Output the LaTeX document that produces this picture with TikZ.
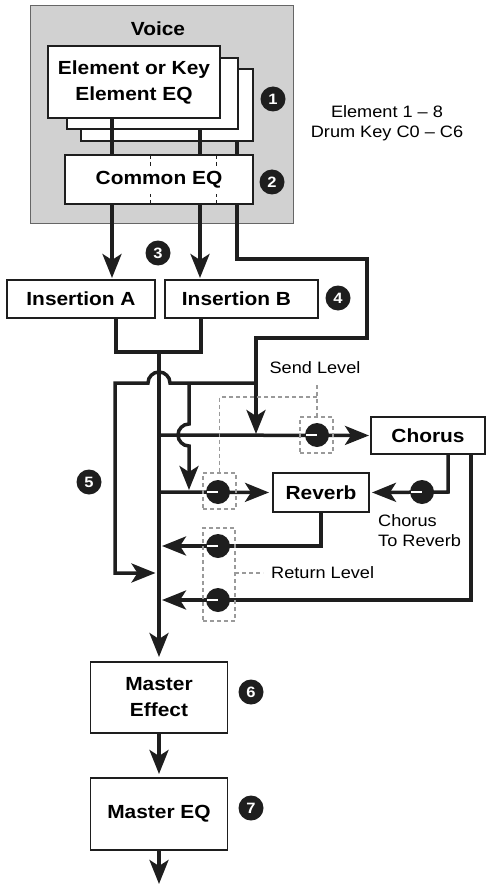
\documentclass[tikz,border=0pt]{standalone}
\usepackage{fontspec}
\setmainfont{Liberation Sans}[FakeStretch=1.1]
\usetikzlibrary{arrows.meta}
\definecolor{ink}{HTML}{1E1E1E}
\definecolor{dgray}{HTML}{9A9A9A}
\definecolor{vfill}{HTML}{D1D1D1}
\definecolor{vedge}{HTML}{666666}
\tikzset{
 box/.style={draw=ink, line width=1.3pt, fill=white, inner sep=0pt, outer sep=0pt, align=center, font=\bfseries\fontsize{19}{26}\selectfont},
 wire/.style={draw=ink, line width=3.5pt},
 arr/.style={wire, -{Stealth[length=24pt,width=19pt,inset=6pt]}},
 knob/.style={circle, fill=ink, minimum size=24pt, inner sep=0pt},
 badge/.style={circle, fill=ink, text=white, minimum size=25pt, inner sep=0pt, font=\bfseries\fontsize{15}{15}\selectfont},
 dbox/.style={draw=dgray, line width=1.6pt, dash pattern=on 4pt off 3pt, inner sep=0pt, outer sep=0pt},
 dline/.style={draw=dgray, line width=1.6pt, dash pattern=on 4pt off 3pt},
 lbl/.style={font=\fontsize{16.5}{20.5}\selectfont, inner sep=0pt, align=center},
 blbl/.style={font=\bfseries\fontsize{19}{26}\selectfont, inner sep=0pt},
}
\begin{document}
\begin{tikzpicture}[x=1pt,y=-1pt]
\useasboundingbox (0,0) rectangle (487,893);
% Voice
\node[draw=vedge, fill=vfill, line width=1pt, minimum width=263pt, minimum height=218pt, inner sep=0pt] (voice) at (161.5,115) {};
\node[blbl] (vlbl) at (158,29) {Voice};
\node[box, minimum width=172pt, minimum height=72pt] (el3) at (167,105) {};
\node[box, minimum width=171pt, minimum height=71pt] (el2) at (152.5,93.5) {};
\node[box, minimum width=172pt, minimum height=72pt] (el1) at (134,82) {Element or Key\\Element EQ};
\node[box, minimum width=188pt, minimum height=49pt] (ceq) at (159,179.5) {Common EQ};
\coordinate (d1) at (150,0); \coordinate (d2) at (216,0);
\foreach \d in {d1,d2}{
  \draw[ink, line width=0.8pt, dash pattern=on 4pt off 3pt] (ceq.north -| \d) -- ++(0,13);
  \draw[ink, line width=0.8pt, dash pattern=on 4pt off 3pt] (ceq.south -| \d) -- ++(0,-10);
}
\node[badge] (b1) at (273,99) {1};
\node[badge] (b2) at (272,182) {2};
\node[lbl] (elabel) at (387,123) {Element 1 – 8\\Drum Key C0 – C6};
% element wires
\coordinate (xA) at (112,0); \coordinate (xB) at (200,0); \coordinate (xC) at (237,0);
\draw[wire] (el1.south -| xA) -- (ceq.north -| xA);
\draw[wire] (el2.south -| xB) -- (ceq.north -| xB);
\draw[wire] (el3.south -| xC) -- (ceq.north -| xC);
% insertions
\node[box, minimum width=148pt, minimum height=38pt] (insA) at (81,299) {Insertion A};
\node[box, minimum width=153pt, minimum height=38pt] (insB) at (241.5,299) {\hspace*{-10pt}Insertion B};
\node[badge] (b3) at (158,253) {3};
\node[badge] (b4) at (338,298) {4};
\draw[arr, shorten >=2pt] (ceq.south -| xA) -- (insA.north -| xA);
\draw[arr, shorten >=2pt] (ceq.south -| xB) -- (insB.north -| xB);
% bypass route
\coordinate (t1) at (367,259); \coordinate (t2) at (256,338); \coordinate (sj) at (256,383);
\draw[wire] (ceq.south -| xC) |- (t1) |- (t2) -- (sj);
\coordinate (sc1) at (256,434);
\draw[arr] (sj) -- (sc1);
% insertion outputs and bus
\coordinate (xIA) at (116,0); \coordinate (xIB) at (201,0); \coordinate (jn) at (159,352);
\draw[wire] (insA.south -| xIA) |- (jn) -| (insB.south -| xIB);
% effects
\node[box, minimum width=114pt, minimum height=37pt] (chorus) at (428,435.5) {Chorus};
\node[box, minimum width=96pt, minimum height=39pt] (reverb) at (321,492.5) {Reverb};
\node[box, minimum width=137pt, minimum height=71pt] (mfx) at (159,697.5) {Master\\Effect};
\node[box, minimum width=137pt, minimum height=72pt] (meq) at (159,814) {Master EQ};
\node[badge] (b5) at (89,482) {5};
\node[badge] (b6) at (251,692) {6};
\node[badge] (b7) at (251,808) {7};
\draw[arr, shorten >=5pt] (jn) -- (mfx.north);
\draw[arr, shorten >=4pt] (mfx.south) -- (meq.north);
\coordinate (out) at (159,884);
\draw[arr] (meq.south) -- (out);
% dry path with hop
\coordinate (dry) at (155.5,573);
\draw[arr] (sj) -- (170,383) arc[start angle=0, end angle=180, radius=11pt] -- (115,383) -- (115,573) -- (dry);
% reverb send from bypass with hop
\coordinate (rs0) at (189,383); \coordinate (rs1) at (189,490);
\draw[arr] (rs0) -- (189,424) arc[start angle=90, end angle=270, radius=11pt] -- (rs1);
% sends
\coordinate (cs0) at (159,435); \coordinate (rv0) at (159,492);
\draw[arr, shorten >=2pt] (cs0) -- (chorus.west);
\draw[arr, shorten >=4pt] (rv0) -- (reverb.west);
\coordinate (c2r) at (448,492);
\draw[arr, shorten >=3pt] (chorus.south -| c2r) -- (c2r) -- (reverb.east);
% returns
\coordinate (rr) at (321,546); \coordinate (rrend) at (162,546);
\draw[arr] (reverb.south) -- (rr) -- (rrend);
\coordinate (cr) at (471,600); \coordinate (crend) at (162,600);
\draw[arr] (chorus.south -| cr) -- (cr) -- (crend);
% dashed level boxes
\node[dbox, minimum width=33pt, minimum height=36pt] (dsc) at (316.5,435) {};
\node[dbox, minimum width=33pt, minimum height=36pt] (dsr) at (219.5,491) {};
\node[dbox, minimum width=32pt, minimum height=93pt] (dret) at (219,574.5) {};
% knobs
\foreach \n/\p in {k1/{(317,435)}, k2/{(218,492)}, k3/{(422,492)}, k4/{(218,546)}, k5/{(218,600)}}{
  \node[knob] (\n) at \p {};
  \draw[white, line width=2pt] (\n.west) ++(1.5,0) -- (\n.center);
}
% labels
\node[lbl] (sendl) at (315,368) {Send Level};
\coordinate (sl0) at (317,385); \coordinate (sl1) at (317,397);
\draw[dline] (sl0) -- (dsc.north -| sl0);
\draw[dline] (sl1) -| (dsr.north);
\node[lbl, anchor=west] (retl) at (271,573) {Return Level};
\draw[dline, shorten >=8pt] (dret.east |- retl) -- (retl.west);
\node[lbl, align=left, anchor=west] (c2rl) at (378,530.5) {Chorus\\To Reverb};
\end{tikzpicture}
\end{document}
